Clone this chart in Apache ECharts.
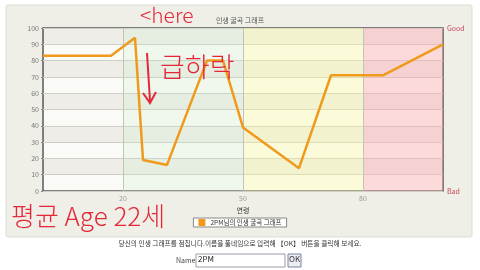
<!DOCTYPE html>
<html><head><meta charset="utf-8">
<script src="https://cdn.jsdelivr.net/npm/echarts@6/dist/echarts.min.js"></script>
<style>html,body{margin:0;padding:0;background:#fff}#c{width:480px;height:270px}</style>
</head><body><div id="c"></div>
<script>
var ages = [0, 17, 23, 25, 31, 41, 45, 50, 64, 72, 85, 100];
var values = [83, 83, 94, 19, 16, 80, 80, 39, 14, 71, 71, 90];
var xLabels = [20, 50, 80];
var zoneEdges = [0, 20, 50, 80, 100];
var zoneColors = ['rgba(0,0,0,0)', 'rgba(200,240,200,0.2)', 'rgba(255,255,150,0.3)', 'rgba(255,170,175,0.4)'];
var seriesName = '2PM님의 인생 굴곡 그래프';
var titleText = '인생 굴곡 그래프';
var xName = '연령';
var noteText = '당신의 인생 그래프를 점칩니다.이름을 풀네임으로 입력해 【OK】 버튼을 클릭해 보세요.';

var chart = echarts.init(document.getElementById('c'), null, {renderer: 'canvas'});
var zoneAreas = [];
for (var i = 0; i < zoneColors.length; i++) {
  zoneAreas.push([{xAxis: zoneEdges[i], itemStyle: {color: zoneColors[i]}}, {xAxis: zoneEdges[i + 1]}]);
}
var red = '#e3283a';
var KR = '"Noto Sans CJK KR", sans-serif';
chart.setOption({
  animation: false,
  textStyle: {fontFamily: KR},
  title: {text: titleText, left: 'center', top: 12, textStyle: {fontSize: 7, color: '#555', fontWeight: 'normal'}},
  legend: {
    data: [seriesName], left: 'center', top: 218, icon: 'rect', itemWidth: 7, itemHeight: 7, itemGap: 3,
    padding: [1, 5], borderColor: '#888', borderWidth: 1, backgroundColor: '#fff',
    textStyle: {fontSize: 6.5, color: '#333'}
  },
  grid: {left: 43, top: 28, right: 37, bottom: 79, show: true, backgroundColor: '#fafaf7', borderColor: '#5a5a5a', borderWidth: 1.5},
  xAxis: {
    type: 'value', min: 0, max: 100, name: xName, nameLocation: 'middle', nameGap: 15,
    nameTextStyle: {fontSize: 7, color: '#333'},
    axisLine: {show: false}, axisTick: {show: false}, splitLine: {show: false},
    axisLabel: {customValues: xLabels, fontSize: 7, color: '#999', margin: 4}
  },
  yAxis: [{
    type: 'value', min: 0, max: 100, interval: 10,
    axisLine: {show: false}, axisTick: {show: true, length: 2, lineStyle: {color: '#888'}},
    axisLabel: {fontSize: 7, color: '#777', margin: 4},
    splitLine: {show: true, lineStyle: {color: '#cfcfc6', width: 1}},
    splitArea: {show: true, areaStyle: {color: ['rgba(0,0,0,0)', 'rgba(90,70,40,0.07)']}}
  }, {
    type: 'value', min: 0, max: 100, interval: 100, position: 'right',
    axisLine: {show: false}, axisTick: {show: false}, splitLine: {show: false},
    axisLabel: {fontSize: 7, color: '#c8485a', margin: 4, formatter: function (v) { return v === 100 ? 'Good' : (v === 0 ? 'Bad' : ''); }}
  }],
  series: [{
    type: 'line', name: 'zones', data: [], silent: true,
    markArea: {silent: true, data: zoneAreas},
    markLine: {silent: true, symbol: 'none', label: {show: false}, lineStyle: {color: '#c2c4b4', type: 'solid', width: 1},
      data: xLabels.map(function (v) { return {xAxis: v}; })}
  }, {
    type: 'line', name: seriesName, z: 5,
    data: ages.map(function (a, i) { return [a, values[i]]; }),
    showSymbol: false, symbol: 'none',
    itemStyle: {color: '#f09a1c'},
    lineStyle: {color: '#f09a1c', width: 2.5}
  }],
  graphic: [
    {type: 'rect', z: -20, shape: {x: 6, y: 5, width: 466, height: 232, r: 2}, style: {fill: '#efefe7', stroke: '#dcdcd4', lineWidth: 1}},
    {type: 'text', z: 50, left: 'center', top: 240, style: {text: noteText, fill: '#333', font: '6.7px ' + KR}},
    {type: 'text', z: 50, left: 176, top: 257, style: {text: 'Name', fill: '#444', font: '7px ' + KR}},
    {type: 'rect', z: 50, shape: {x: 196, y: 254, width: 89, height: 13}, style: {fill: '#fff', stroke: '#9a9aa6', lineWidth: 1}},
    {type: 'text', z: 51, left: 198, top: 255, style: {text: '2PM', fill: '#222', font: '8px ' + KR}},
    {type: 'rect', z: 50, shape: {x: 288, y: 254, width: 13, height: 13}, style: {fill: '#eceef2', stroke: '#7a82a0', lineWidth: 1}},
    {type: 'text', z: 51, left: 289, top: 255, style: {text: 'OK', fill: '#334', font: '8px ' + KR}},
    {type: 'text', z: 60, left: 140, top: 5, style: {text: '<here', fill: red, font: '300 21px ' + KR}},
    {type: 'text', z: 60, left: 160, top: 53, style: {text: '급하락', fill: red, font: '300 27px ' + KR}},
    {type: 'polyline', z: 60, shape: {points: [[147, 53], [150, 101]]}, style: {stroke: red, lineWidth: 2, fill: 'none'}},
    {type: 'polyline', z: 60, shape: {points: [[143, 93], [150, 103], [156, 92]]}, style: {stroke: red, lineWidth: 2, fill: 'none'}},
    {type: 'text', z: 60, left: 11, top: 203, style: {text: '평균 Age 22세', fill: red, font: '300 26px ' + KR}}
  ]
});
</script></body></html>
